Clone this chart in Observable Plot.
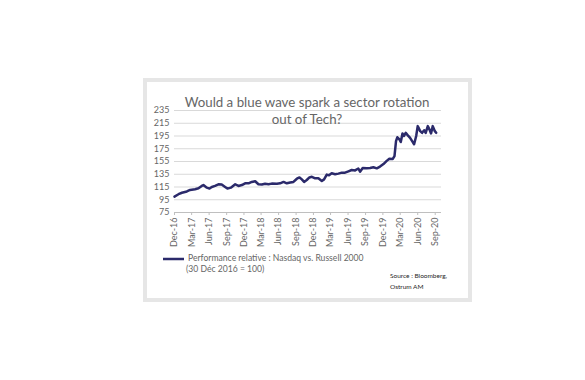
<!DOCTYPE html>
<html>
<head>
<meta charset="utf-8">
<script src="https://cdn.jsdelivr.net/npm/d3@7"></script>
<script src="https://cdn.jsdelivr.net/npm/@observablehq/plot@0.6"></script>
<style>
  html, body { margin: 0; padding: 0; background: #ffffff; }
  #page { position: relative; width: 585px; height: 380px; overflow: hidden; }
  #frame { position: absolute; left: 143px; top: 78px; width: 321px; height: 216px; border: 4px solid #e6e6e6; background: #ffffff; }
  #chart { position: absolute; left: 147px; top: 82px; }
  #overlay { position: absolute; left: 0; top: 0; pointer-events: none; }
</style>
</head>
<body>
<div id="page">
  <div id="frame"></div>
  <div id="chart"></div>
  <svg id="overlay" width="585" height="380"></svg>
</div>
<script>
// ---- data ----
const dates = ["2016-12-30","2017-01-20","2017-02-07","2017-03-05","2017-03-22","2017-04-17","2017-05-05","2017-05-22","2017-05-31","2017-06-18","2017-07-02","2017-07-14","2017-07-31","2017-08-18","2017-09-04","2017-09-22","2017-10-04","2017-10-22","2017-11-14","2017-12-01","2017-12-19","2018-01-05","2018-01-23","2018-02-09","2018-02-27","2018-03-16","2018-04-03","2018-04-20","2018-05-08","2018-05-25","2018-06-21","2018-07-08","2018-07-26","2018-08-12","2018-08-30","2018-09-16","2018-10-04","2018-10-18","2018-10-30","2018-11-11","2018-11-25","2018-12-09","2018-12-22","2019-01-08","2019-01-25","2019-02-12","2019-02-24","2019-03-10","2019-03-22","2019-04-05","2019-04-23","2019-05-10","2019-05-28","2019-06-14","2019-07-02","2019-07-19","2019-08-06","2019-08-23","2019-09-01","2019-09-15","2019-10-06","2019-10-24","2019-11-10","2019-11-28","2019-12-15","2020-01-02","2020-01-19","2020-02-02","2020-02-20","2020-02-29","2020-03-08","2020-03-15","2020-03-26","2020-04-02","2020-04-11","2020-04-19","2020-04-28","2020-05-09","2020-05-21","2020-06-04","2020-06-11","2020-06-22","2020-06-30","2020-07-13","2020-07-23","2020-08-03","2020-08-11","2020-08-22","2020-08-31","2020-09-08","2020-09-17","2020-09-28","2020-10-05"];
const values = [100,103.7,106,108,110.4,111.5,113,116.7,118,114,112.5,115,116.7,119.3,118.8,115,112.5,114,119.3,116.7,118,120.8,120.8,123,124,119.3,118.8,120,119.3,120.3,120,120.8,123,120.8,122,123,128,130,127,123,126,130,131,128.7,128.7,124.5,127,134.4,133.4,136.5,135,136,137.5,137.5,139.6,141.7,141,144,139,144.8,144.3,144.8,146,144.3,147,151,156,159.4,159,163.6,187,193,189.6,185.5,199,195,200,196,192,185.5,182,195,210.5,202.6,200,204,200,210.5,205,199,210.5,202.6,200];

const tickDates = ["2016-12-30","2017-03-30","2017-06-30","2017-09-30","2017-12-30","2018-03-30","2018-06-30","2018-09-30","2018-12-30","2019-03-30","2019-06-30","2019-09-30","2019-12-30","2020-03-30","2020-06-30","2020-09-30"];
const tickLabels = ["Dec-16","Mar-17","Jun-17","Sep-17","Dec-17","Mar-18","Jun-18","Sep-18","Dec-18","Mar-19","Jun-19","Sep-19","Dec-19","Mar-20","Jun-20","Sep-20"];
const yTicks = [75, 95, 115, 135, 155, 175, 195, 215, 235];

const titleLines = ["Would a blue wave spark a sector rotation", "out of Tech?"];
const legendLines = ["Performance relative : Nasdaq  vs. Russell 2000", "(30 Déc 2016 = 100)"];
const sourceLines = ["Source : Bloomberg,", "Ostrum AM"];

// ---- build ----
const parse = d3.utcParse("%Y-%m-%d");
const series = dates.map((d, i) => ({date: parse(d), value: values[i]}));
const tickD = tickDates.map(parse);
const labelOf = new Map(tickD.map((d, i) => [+d, tickLabels[i]]));

const navy = "#2b2a6b";
const font = "Lato, 'Liberation Sans', sans-serif";

const chart = Plot.plot({
  width: 320,
  height: 216,
  marginLeft: 27,
  marginRight: 26,
  marginTop: 28,
  marginBottom: 86,
  style: {background: "transparent", fontFamily: font, fontSize: "9px", color: "#595959"},
  x: {type: "utc", domain: [parse("2016-12-30"), parse("2020-11-02")]},
  y: {domain: [75, 235]},
  marks: [
    Plot.gridY(yTicks, {stroke: "#d9d9d9", strokeOpacity: 1}),
    Plot.ruleY([75], {stroke: "#bfbfbf"}),
    Plot.axisY({ticks: yTicks, tickSize: 0, tickPadding: 5, label: null, fill: "#666666", fontSize: 9}),
    Plot.axisX({ticks: tickD, tickFormat: d => labelOf.get(+d), tickRotate: -90, tickSize: 3, tickPadding: 2, label: null, stroke: "#bfbfbf", fill: "#666666", fontSize: 9}),
    Plot.lineY(series, {x: "date", y: "value", stroke: navy, strokeWidth: 2.5, strokeLinejoin: "round"})
  ]
});
document.getElementById("chart").appendChild(chart);

// ---- title, legend and source ----
const ov = d3.select("#overlay");
ov.selectAll("text.title").data(titleLines).join("text")
  .attr("class", "title")
  .attr("x", 307).attr("y", (d, i) => 107 + i * 17)
  .attr("text-anchor", "middle")
  .attr("font-family", font).attr("font-size", 13.3).attr("fill", "#666666")
  .text(d => d);

ov.append("line").attr("x1", 163).attr("x2", 184).attr("y1", 259).attr("y2", 259)
  .attr("stroke", navy).attr("stroke-width", 2.5);
ov.selectAll("text.legend").data(legendLines).join("text")
  .attr("class", "legend")
  .attr("x", (d, i) => i === 0 ? 188 : 186).attr("y", (d, i) => 261 + i * 11.3)
  .attr("font-family", font).attr("font-size", 8.6).attr("fill", "#666666")
  .text(d => d);

ov.selectAll("text.source").data(sourceLines).join("text")
  .attr("class", "source")
  .attr("x", 390).attr("y", (d, i) => 277.5 + i * 11.5)
  .attr("font-family", font).attr("font-size", 6.5).attr("fill", "#262626")
  .text(d => d);
</script>
</body>
</html>
